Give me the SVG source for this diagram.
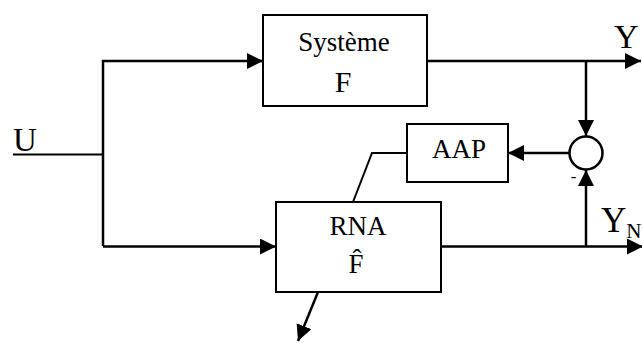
<svg xmlns="http://www.w3.org/2000/svg" width="642" height="343" viewBox="0 0 642 343">
  <style>
    .box { fill: #fff; stroke: #000; stroke-width: 2; }
    .wire { fill: none; stroke: #000; stroke-width: 2.5; }
    .thin { fill: none; stroke: #000; stroke-width: 2; }
    text { font-family: "Liberation Serif", "Times New Roman", serif; fill: #000; }
  </style>
  <defs>
    <marker id="arrow" markerWidth="16" markerHeight="16" viewBox="0 0 16 16" refX="16" refY="8" orient="auto" markerUnits="userSpaceOnUse">
      <path d="M0,0 L16,8 L0,16 Z" fill="#000"/>
    </marker>
  </defs>
  <rect width="642" height="343" fill="#fff"/>

  <g id="connectors">
    <!-- input U and its split -->
    <line class="thin" x1="13" y1="154.5" x2="103" y2="154.5"/>
    <polyline class="wire" points="103,246 103,61 263,61" marker-end="url(#arrow)"/>
    <line class="wire" x1="103" y1="246.5" x2="276" y2="246.5" marker-end="url(#arrow)"/>
    <!-- system output Y -->
    <line class="wire" x1="427" y1="61" x2="641" y2="61" marker-end="url(#arrow)"/>
    <line class="wire" x1="586" y1="61" x2="586" y2="136" marker-end="url(#arrow)"/>
    <!-- network output YN -->
    <line class="wire" x1="441" y1="246.5" x2="643" y2="246.5" marker-end="url(#arrow)"/>
    <line class="wire" x1="586" y1="246.5" x2="586" y2="170" marker-end="url(#arrow)"/>
    <!-- error to learning block -->
    <line class="wire" x1="569" y1="153" x2="508" y2="153" marker-end="url(#arrow)"/>
    <!-- weight update path -->
    <polyline class="thin" points="407,153 372,153 353,202"/>
    <!-- outgoing arrow below RNA -->
    <line class="wire" x1="318" y1="292" x2="298" y2="341" marker-end="url(#arrow)"/>
  </g>

  <g id="node-systeme">
    <rect class="box" x="263" y="15" width="164" height="91"/>
    <text x="344" y="51" font-size="27" text-anchor="middle">Système</text>
    <text x="343" y="92" font-size="30" text-anchor="middle">F</text>
  </g>

  <g id="node-aap">
    <rect class="box" x="407" y="124" width="101" height="58"/>
    <text x="459" y="158" font-size="27" text-anchor="middle">AAP</text>
  </g>

  <g id="node-rna">
    <rect class="box" x="276" y="202" width="165" height="90"/>
    <text x="358" y="235" font-size="27" text-anchor="middle">RNA</text>
    <text x="356" y="273" font-size="27" text-anchor="middle">F&#x302;</text>
  </g>

  <g id="node-sum">
    <circle cx="586" cy="153" r="16.5" fill="#fff" stroke="#000" stroke-width="2.5"/>
    <text x="573.5" y="182" font-size="17" text-anchor="middle">-</text>
  </g>

  <g id="labels">
    <text x="13" y="151" font-size="33">U</text>
    <text x="614" y="48" font-size="34">Y</text>
    <text x="601" y="232" font-size="35">Y<tspan font-size="21" dy="6">N</tspan></text>
  </g>
</svg>
